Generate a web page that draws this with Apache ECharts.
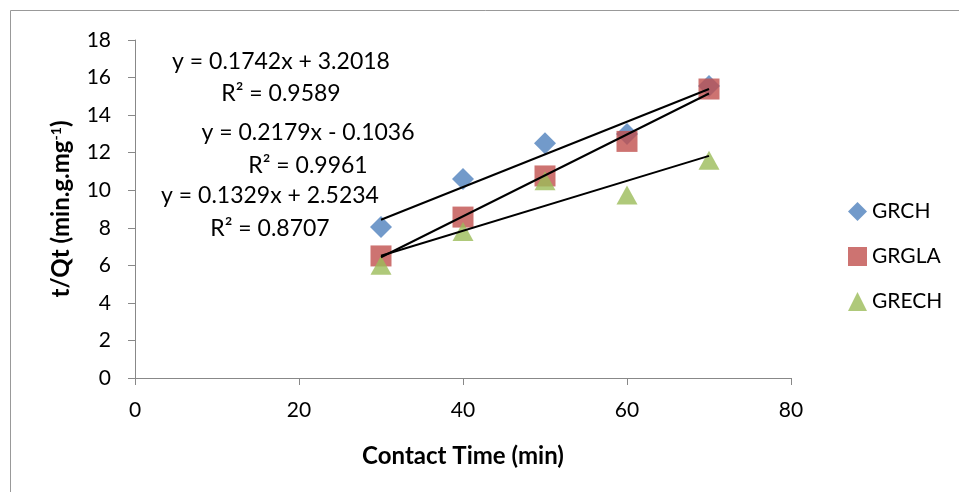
<!DOCTYPE html>
<html><head><meta charset="utf-8">
<script src="https://cdn.jsdelivr.net/npm/echarts@6/dist/echarts.min.js"></script>
<style>html,body{margin:0;padding:0;background:#fff}#c{width:959px;height:492px}</style>
</head><body><div id="c"></div>
<script>
const xValues = [30, 40, 50, 60, 70];
const grch = [8.04, 10.6, 12.5, 13.0, 15.55];
const grgla = [6.5, 8.57, 10.76, 12.6, 15.39];
const grech = [6.0, 7.8, 10.5, 9.75, 11.6];
const trendX = [30, 70];
const trendGrch = [8.43, 15.39];
const trendGrgla = [6.43, 15.15];
const trendGrech = [6.51, 11.83];
const equations = ['y = 0.1742x + 3.2018', 'R² = 0.9589', 'y = 0.2179x - 0.1036', 'R² = 0.9961', 'y = 0.1329x + 2.5234', 'R² = 0.8707'];

const FONT = 'Lato';
const pts = (ys) => xValues.map((x, i) => [x, ys[i]]);
const tr = (ys) => trendX.map((x, i) => [x, ys[i]]);

const chart = echarts.init(document.getElementById('c'));
const eqPos = [[281, 62], [281, 94], [308, 133], [308, 166], [270, 196], [270, 229]];
chart.setOption({
  animation: false,
  textStyle: { fontFamily: FONT },
  grid: { left: 135, right: 168, top: 40, bottom: 114 },
  xAxis: {
    type: 'value', min: 0, max: 80, interval: 20,
    name: 'Contact Time (min)', nameLocation: 'middle', nameGap: 66,
    nameTextStyle: { fontFamily: FONT, fontWeight: 'bold', fontSize: 24, color: '#000' },
    axisLine: { show: true, lineStyle: { color: '#888', width: 1 } },
    axisTick: { show: true, length: 7, lineStyle: { color: '#888' } },
    axisLabel: { fontFamily: FONT, fontSize: 21, color: '#000', margin: 22 },
    splitLine: { show: false }
  },
  yAxis: {
    type: 'value', min: 0, max: 18, interval: 2,
    name: '{a|t/Qt (min.g.mg}{s|-1}{a|)}', nameLocation: 'middle', nameGap: 62, nameRotate: 90,
    nameTextStyle: { rich: {
      a: { fontFamily: FONT, fontWeight: 'bold', fontSize: 24, color: '#000' },
      s: { fontFamily: FONT, fontWeight: 'bold', fontSize: 14, color: '#000', verticalAlign: 'top', padding: [0, 0, 10, 0] }
    } },
    axisLine: { show: true, lineStyle: { color: '#888', width: 1 } },
    axisTick: { show: true, length: 7, lineStyle: { color: '#888' } },
    axisLabel: { fontFamily: FONT, fontSize: 21, color: '#000', margin: 24 },
    splitLine: { show: false }
  },
  legend: {
    orient: 'vertical', left: 843, top: 196, itemGap: 24, itemWidth: 19, itemHeight: 19,
    data: ['GRCH', 'GRGLA', 'GRECH'],
    textStyle: { fontFamily: FONT, fontSize: 21, color: '#000' }
  },
  series: [
    { name: 'GRCH', type: 'scatter', symbol: 'diamond', symbolSize: [22, 22], data: pts(grch), itemStyle: { color: '#4F81BD' }, z: 2 },
    { name: 'GRGLA', type: 'scatter', symbol: 'rect', symbolSize: [21, 21], data: pts(grgla), itemStyle: { color: '#C0504D' }, z: 3 },
    { name: 'GRECH', type: 'scatter', symbol: 'triangle', symbolSize: [21, 19], data: pts(grech), itemStyle: { color: '#9BBB59' }, z: 4 },
    { name: 'tGRCH', type: 'line', data: tr(trendGrch), symbol: 'none', lineStyle: { color: '#000', width: 2 }, z: 5 },
    { name: 'tGRGLA', type: 'line', data: tr(trendGrgla), symbol: 'none', lineStyle: { color: '#000', width: 2 }, z: 5 },
    { name: 'tGRECH', type: 'line', data: tr(trendGrech), symbol: 'none', lineStyle: { color: '#000', width: 2 }, z: 5 }
  ],
  graphic: [
    { type: 'rect', shape: { x: 10.5, y: 10.5, width: 960, height: 500 }, style: { fill: 'none', stroke: '#999', lineWidth: 1 }, silent: true }
  ].concat(equations.map((t, i) => ({
    type: 'text', x: eqPos[i][0], y: eqPos[i][1],
    style: { text: t, fontFamily: FONT, fontSize: 23, fill: '#000', align: 'center', verticalAlign: 'middle' }
  })))
});
</script>
</body></html>
